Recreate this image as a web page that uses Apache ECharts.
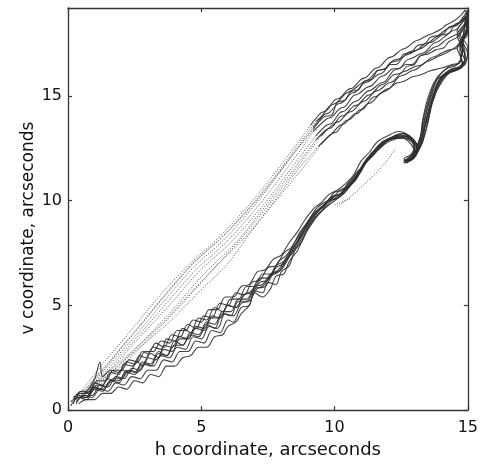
<!DOCTYPE html>
<html>
<head>
<meta charset="utf-8">
<script src="https://cdn.jsdelivr.net/npm/echarts@6/dist/echarts.min.js"></script>
<style>
  html, body { margin: 0; padding: 0; background: #fff; }
  #chart { width: 481px; height: 464px; }
</style>
</head>
<body>
<div id="chart"></div>
<script>
// Tick values for both axes
const hTicks = [0, 5, 10, 15];
const vTicks = [0, 5, 10, 15];

// Outbound legs of each trial (h, v in arcseconds), slow and densely sampled
const outbound = [
  [[0.3,0.5],[0.5,0.9],[0.8,0.8],[1.0,1.3],[1.3,1.2],[1.6,1.8],[1.9,1.7],[2.1,2.2],[2.4,2.1],[2.7,2.6],[2.9,2.5],[3.2,3.0],[3.5,2.9],[3.7,3.4],[4.0,3.3],[4.3,3.9],[4.6,3.7],[4.9,4.4],[5.2,4.3],[5.5,4.9],[5.8,4.7],[6.1,5.3],[6.4,5.3],[6.7,5.9],[7.0,5.9],[7.3,6.5],[7.6,6.5],[7.9,7.1],[8.2,7.4],[8.5,8.0],[8.8,8.6],[9.1,9.2],[9.4,9.6],[9.7,9.9],[10.0,10.4],[10.3,10.5],[10.6,11.0],[10.9,11.3],[11.2,12.0],[11.5,12.3],[11.8,12.8],[12.1,13.0],[12.5,13.2],[12.9,13.0],[13.1,12.5],[12.9,12.0],[12.6,11.9],[12.9,12.1],[13.2,12.9],[13.3,13.8],[13.5,14.9],[13.8,15.8],[14.2,16.3],[14.6,16.5],[14.8,17.2],[14.6,17.9],[14.9,18.5],[15.0,19.0]],
  [[0.2,0.3],[0.4,0.7],[0.7,0.6],[0.9,1.1],[1.2,1.0],[1.5,1.5],[1.7,1.4],[2.0,1.9],[2.3,1.8],[2.6,2.3],[2.8,2.1],[3.1,2.7],[3.4,2.5],[3.6,3.1],[3.9,3.0],[4.2,3.5],[4.5,3.4],[4.8,4.0],[5.1,3.9],[5.4,4.5],[5.7,4.4],[6.0,5.0],[6.3,4.9],[6.6,5.5],[6.9,5.6],[7.2,6.1],[7.5,6.2],[7.8,6.8],[8.1,7.0],[8.4,7.6],[8.7,8.3],[9.0,8.9],[9.3,9.5],[9.6,9.7],[9.9,10.2],[10.2,10.3],[10.5,10.8],[10.8,11.1],[11.1,11.8],[11.4,12.1],[11.7,12.6],[12.0,12.9],[12.5,13.0],[12.8,12.8],[13.0,12.3],[12.8,11.9],[12.7,11.8],[13.0,12.2],[13.2,12.7],[13.4,13.6],[13.6,14.7],[13.9,15.6],[14.3,16.1],[14.7,16.3],[14.9,16.9],[14.7,17.6],[15.0,18.2],[14.9,18.8]],
  [[0.4,0.6],[0.7,0.9],[1.0,1.5],[1.2,2.3],[1.3,1.6],[1.6,1.9],[1.9,1.8],[2.2,2.3],[2.5,2.2],[2.8,2.8],[3.0,2.7],[3.3,3.2],[3.6,3.0],[3.9,3.6],[4.2,3.5],[4.5,4.1],[4.8,3.9],[5.1,4.5],[5.4,4.4],[5.7,5.1],[6.0,5.0],[6.3,5.6],[6.6,5.5],[6.9,6.1],[7.2,6.2],[7.5,6.8],[7.8,6.9],[8.1,7.5],[8.4,7.8],[8.7,8.5],[9.0,9.0],[9.3,9.6],[9.6,9.9],[9.9,10.1],[10.2,10.5],[10.5,10.7],[10.8,11.3],[11.1,11.7],[11.4,12.3],[11.7,12.5],[12.0,12.9],[12.4,13.1],[12.8,13.0],[13.1,12.6],[13.0,12.1],[12.7,11.9],[12.9,12.0],[13.3,12.8],[13.4,13.7],[13.7,14.8],[14.0,15.8],[14.4,16.2],[14.8,16.4],[14.9,17.0],[14.8,17.7],[15.1,18.3],[15.0,18.9]],
  [[0.1,0.2],[0.4,0.6],[0.7,0.5],[1.0,1.0],[1.3,0.9],[1.6,1.4],[1.9,1.3],[2.2,1.8],[2.5,1.7],[2.8,2.2],[3.1,2.1],[3.4,2.7],[3.7,2.6],[4.0,3.1],[4.3,3.1],[4.6,3.7],[4.9,3.6],[5.2,4.2],[5.5,4.1],[5.8,4.7],[6.1,4.7],[6.4,5.3],[6.7,5.3],[7.0,5.9],[7.3,6.0],[7.6,6.5],[7.9,6.7],[8.2,7.3],[8.5,7.8],[8.8,8.5],[9.1,9.1],[9.4,9.5],[9.7,9.9],[10.0,10.2],[10.3,10.4],[10.6,10.8],[10.9,11.3],[11.2,11.9],[11.5,12.3],[11.8,12.8],[12.3,13.0],[12.7,13.1],[13.0,12.7],[13.0,12.2],[12.7,11.8],[12.8,12.0],[13.1,12.5],[13.3,13.5],[13.5,14.5],[13.8,15.5],[14.1,16.0],[14.5,16.2],[14.8,16.6],[14.6,17.3],[14.9,17.9],[15.0,18.6]],
  [[0.3,0.3],[0.6,0.7],[0.9,0.7],[1.2,1.2],[1.5,1.1],[1.8,1.6],[2.1,1.5],[2.4,2.0],[2.7,1.9],[3.0,2.5],[3.3,2.4],[3.6,2.9],[3.9,2.8],[4.2,3.4],[4.5,3.4],[4.8,3.9],[5.1,3.8],[5.4,4.4],[5.7,4.4],[6.0,5.0],[6.3,4.9],[6.6,5.5],[6.9,5.7],[7.2,6.3],[7.5,6.3],[7.8,6.9],[8.1,7.1],[8.4,7.7],[8.7,8.2],[9.0,8.9],[9.3,9.4],[9.6,9.8],[9.9,10.2],[10.2,10.3],[10.5,10.7],[10.8,11.0],[11.1,11.8],[11.4,12.2],[11.7,12.7],[12.1,13.0],[12.6,13.2],[12.9,12.9],[13.1,12.4],[12.8,11.9],[12.6,12.0],[13.0,12.3],[13.2,13.0],[13.5,13.9],[13.7,15.0],[14.0,15.9],[14.4,16.3],[14.9,16.5],[15.0,17.3],[14.7,18.0],[15.0,18.7],[14.9,19.1]],
  [[0.2,0.5],[0.5,0.9],[0.8,0.9],[1.1,1.4],[1.4,1.4],[1.7,1.9],[2.0,1.9],[2.3,2.4],[2.6,2.3],[2.9,2.8],[3.2,2.8],[3.5,3.3],[3.8,3.2],[4.1,3.8],[4.4,3.8],[4.7,4.3],[5.0,4.2],[5.3,4.8],[5.6,4.8],[5.9,5.4],[6.2,5.4],[6.5,5.9],[6.8,6.0],[7.1,6.6],[7.4,6.7],[7.7,7.2],[8.0,7.4],[8.3,8.0],[8.6,8.5],[8.9,9.1],[9.2,9.6],[9.5,9.9],[9.8,10.3],[10.1,10.5],[10.4,10.8],[10.7,11.2],[11.0,11.9],[11.3,12.3],[11.6,12.8],[12.0,13.1],[12.4,13.3],[12.8,13.1],[13.1,12.6],[12.9,12.1],[12.6,11.9],[12.8,12.1],[13.2,12.9],[13.4,13.9],[13.6,15.0],[13.9,15.9],[14.3,16.4],[14.7,16.6],[14.8,17.4],[14.6,18.1],[14.9,18.7],[15.0,19.1]],
  [[0.3,0.4],[0.6,0.7],[0.9,0.6],[1.2,1.0],[1.5,0.9],[1.8,1.3],[2.1,1.2],[2.4,1.6],[2.7,1.5],[3.0,1.9],[3.3,1.9],[3.6,2.4],[3.9,2.3],[4.2,2.8],[4.5,2.8],[4.8,3.3],[5.1,3.2],[5.4,3.8],[5.7,3.7],[6.0,4.3],[6.2,4.2],[6.5,4.9],[6.8,5.0],[7.0,5.7],[7.3,5.6],[7.5,6.1],[7.8,6.0],[8.0,6.6],[8.3,6.9],[8.5,7.6],[8.8,8.1],[9.0,8.7],[9.3,9.2],[9.6,9.6],[9.9,10.0],[10.2,10.2],[10.5,10.6],[10.8,11.0],[11.1,11.7],[11.4,12.1],[11.7,12.5],[12.0,12.8],[12.5,13.0],[12.9,12.8],[13.0,12.3],[12.8,11.9],[12.6,11.8],[12.9,12.0],[13.2,12.6],[13.4,13.6],[13.6,14.6],[13.9,15.6],[14.2,16.1],[14.6,16.3],[14.9,16.8],[14.8,17.5],[15.0,18.1],[15.1,18.8]],
  [[0.2,0.6],[0.5,0.8],[0.8,0.8],[1.1,1.2],[1.4,1.1],[1.7,1.5],[2.0,1.5],[2.3,1.9],[2.6,1.8],[2.9,2.2],[3.2,2.1],[3.5,2.6],[3.8,2.5],[4.1,3.0],[4.4,2.9],[4.7,3.5],[5.0,3.4],[5.3,4.0],[5.6,3.9],[5.9,4.6],[6.2,4.5],[6.5,5.1],[6.8,5.2],[7.1,5.8],[7.4,5.9],[7.7,6.5],[8.0,6.7],[8.3,7.3],[8.6,7.8],[8.9,8.5],[9.2,9.1],[9.5,9.5],[9.8,10.0],[10.1,10.1],[10.4,10.5],[10.7,10.9],[11.0,11.5],[11.3,12.0],[11.7,12.6],[12.2,13.0],[12.6,13.1],[13.0,12.8],[13.1,12.3],[12.8,11.9],[12.7,11.9],[13.0,12.2],[13.3,12.9],[13.5,13.8],[13.7,14.9],[14.1,15.8],[14.4,16.2],[14.8,16.4],[14.7,17.2],[14.9,17.9],[15.0,18.5]],
  [[0.4,0.3],[0.7,0.5],[1.0,0.5],[1.3,0.8],[1.6,0.8],[1.9,1.1],[2.2,1.0],[2.5,1.4],[2.8,1.3],[3.1,1.7],[3.4,1.6],[3.7,2.1],[4.0,2.1],[4.3,2.5],[4.6,2.6],[4.9,3.0],[5.2,3.0],[5.5,3.5],[5.8,3.6],[6.0,4.0],[6.3,4.2],[6.5,4.6],[6.8,5.0],[7.0,5.6],[7.3,5.4],[7.6,5.8],[7.8,6.4],[8.1,6.5],[8.3,7.1],[8.6,7.6],[8.9,8.4],[9.2,9.0],[9.5,9.5],[9.8,9.8],[10.1,10.1],[10.4,10.4],[10.7,10.9],[11.0,11.4],[11.3,12.1],[11.8,12.8],[12.3,13.0],[12.7,13.0],[13.0,12.6],[12.9,12.1],[12.6,11.8],[12.9,12.1],[13.2,12.7],[13.3,13.7],[13.5,14.7],[13.8,15.7],[14.2,16.1],[14.6,16.3],[14.9,16.6],[14.7,17.4],[15.0,18.0],[14.9,18.7]],
  [[0.1,0.4],[0.4,0.6],[0.7,0.6],[1.0,1.1],[1.3,1.0],[1.6,1.4],[1.9,1.4],[2.2,1.9],[2.5,1.8],[2.8,2.3],[3.1,2.2],[3.4,2.8],[3.7,2.6],[4.0,3.3],[4.3,3.1],[4.6,3.6],[4.9,3.5],[5.2,4.1],[5.5,3.9],[5.8,4.6],[6.1,4.5],[6.4,5.2],[6.7,5.2],[7.0,5.8],[7.3,5.9],[7.6,6.4],[7.9,6.6],[8.2,7.2],[8.5,7.7],[8.8,8.4],[9.1,9.0],[9.4,9.5],[9.7,9.9],[10.0,10.1],[10.3,10.4],[10.6,10.8],[10.9,11.4],[11.2,11.9],[11.5,12.3],[11.8,12.7],[12.2,13.0],[12.5,13.1],[12.9,12.9],[13.0,12.4],[12.8,12.0],[12.6,11.9],[13.0,12.1],[13.3,12.8],[13.5,13.7],[13.7,14.8],[14.0,15.7],[14.3,16.2],[14.7,16.4],[15.0,17.0],[14.8,17.7],[15.0,18.4],[15.0,19.0]]
];

// Return legs, slow part (upper right)
const returnSlow = [
  [[15.0,19.0],[14.8,18.6],[14.5,18.4],[14.3,18.0],[14.0,17.9],[13.7,17.6],[13.4,17.5],[13.1,17.2],[12.8,17.1],[12.5,16.8],[12.2,16.7],[11.9,16.3],[11.6,16.2],[11.3,15.8],[11.0,15.6],[10.7,15.3],[10.4,15.1],[10.1,14.7],[9.8,14.5],[9.5,14.0],[9.3,13.8]],
  [[14.9,18.8],[14.6,18.4],[14.3,18.3],[14.1,18.0],[13.8,17.8],[13.6,17.6],[13.3,17.3],[13.1,17.2],[12.8,17.0],[12.6,16.9],[12.3,16.5],[12.1,16.5],[11.8,16.1],[11.6,16.0],[11.3,15.7],[11.1,15.6],[10.8,15.2],[10.6,15.1],[10.3,14.7],[10.1,14.6],[9.8,14.2],[9.6,14.1],[9.2,13.5]],
  [[15.0,18.9],[14.6,18.2],[14.4,18.1],[14.2,17.9],[13.9,17.6],[13.7,17.5],[13.4,17.1],[13.2,17.0],[12.9,16.8],[12.7,16.7],[12.4,16.3],[12.2,16.3],[11.9,16.0],[11.7,15.9],[11.4,15.5],[11.2,15.4],[10.9,15.1],[10.7,15.0],[10.4,14.5],[10.2,14.4],[9.9,14.0],[9.7,13.9],[9.2,13.3]],
  [[15.0,18.6],[14.7,18.0],[14.5,17.9],[14.2,17.7],[13.9,17.4],[13.7,17.3],[13.4,17.0],[13.2,16.9],[12.9,16.5],[12.7,16.5],[12.4,16.3],[12.2,16.2],[11.9,15.7],[11.7,15.6],[11.4,15.3],[11.2,15.2],[10.9,14.8],[10.7,14.7],[10.4,14.3],[10.2,14.2],[9.9,13.7],[9.7,13.6],[9.3,13.1]],
  [[14.9,19.1],[14.7,18.8],[14.5,18.6],[14.2,18.4],[14.0,18.2],[13.7,18.0],[13.5,17.9],[13.2,17.7],[13.0,17.6],[12.7,17.3],[12.5,17.2],[12.2,16.9],[12.0,16.8],[11.7,16.4],[11.5,16.3],[11.2,15.9],[11.0,15.8],[10.7,15.4],[10.5,15.3],[10.2,14.9],[10.0,14.8],[9.7,14.3],[9.5,14.2],[9.1,13.6]],
  [[15.0,19.1],[14.6,18.4],[14.4,18.3],[14.1,18.1],[13.9,17.9],[13.6,17.8],[13.4,17.5],[13.1,17.4],[12.9,17.1],[12.6,17.0],[12.4,16.7],[12.1,16.6],[11.9,16.3],[11.6,16.2],[11.4,15.8],[11.1,15.7],[10.9,15.3],[10.6,15.2],[10.4,14.8],[10.1,14.7],[9.9,14.1],[9.6,14.0],[9.2,13.4]],
  [[15.1,18.8],[14.8,18.1],[14.6,17.8],[14.3,17.6],[14.1,17.3],[13.8,17.2],[13.5,17.0],[13.2,16.9],[13.0,16.5],[12.7,16.4],[12.5,16.1],[12.2,16.0],[11.9,15.6],[11.7,15.5],[11.4,15.1],[11.2,15.0],[10.9,14.6],[10.7,14.5],[10.4,14.1],[10.2,14.0],[9.9,13.5],[9.7,13.4],[9.3,12.9]],
  [[15.0,18.5],[14.8,17.6],[14.6,17.4],[14.4,17.2],[14.1,17.0],[13.9,16.9],[13.6,16.7],[13.4,16.6],[13.1,16.3],[12.9,16.2],[12.6,16.0],[12.4,15.9],[12.1,15.4],[11.9,15.3],[11.6,15.0],[11.4,14.9],[11.1,14.4],[10.9,14.3],[10.6,13.9],[10.4,13.8],[10.1,13.3],[9.9,13.2],[9.5,12.7]],
  [[14.9,18.7],[14.8,17.4],[14.7,16.6],[14.4,16.5],[14.2,16.4],[13.9,16.3],[13.6,16.2],[13.2,16.0],[12.9,15.9],[12.6,15.7],[12.3,15.6],[12.0,15.3],[11.7,15.1],[11.4,14.7],[11.2,14.6],[10.9,14.2],[10.7,14.1],[10.4,13.7],[10.2,13.6],[9.9,13.2],[9.8,13.1],[9.4,12.6]],
  [[15.0,19.0],[14.8,17.8],[14.6,17.3],[14.3,17.2],[14.1,17.1],[13.8,16.9],[13.6,16.8],[13.3,16.5],[13.0,16.4],[12.7,16.2],[12.5,16.1],[12.2,15.7],[12.0,15.6],[11.7,15.3],[11.5,15.2],[11.2,14.8],[11.0,14.7],[10.7,14.3],[10.5,14.2],[10.2,13.8],[10.0,13.7],[9.5,13.1]]
];

// Return legs, fast part (sparse samples back toward the origin)
const returnFast = [
  [[9.3,13.8],[8.5,12.4],[7.1,10.1],[5.8,8.3],[4.6,6.9],[3.5,5.3],[2.4,3.6],[1.4,2.1],[0.5,0.8]],
  [[9.2,13.5],[8.5,12.3],[7.2,10.1],[5.9,8.2],[4.7,6.8],[3.6,5.2],[2.5,3.5],[1.5,2.1],[0.6,0.8]],
  [[9.2,13.3],[8.6,12.2],[7.3,10.0],[6.0,8.1],[4.8,6.7],[3.7,5.1],[2.6,3.5],[1.6,2.1],[0.6,0.8]],
  [[9.3,13.1],[8.7,12.1],[7.4,9.9],[6.1,8.0],[4.9,6.6],[3.8,5.0],[2.7,3.5],[1.7,2.1],[0.7,0.9]],
  [[9.1,13.6],[8.4,12.4],[7.0,10.1],[5.7,8.3],[4.5,6.9],[3.4,5.4],[2.3,3.7],[1.3,2.2],[0.5,0.9]],
  [[9.2,13.4],[8.5,12.3],[7.2,10.2],[5.9,8.4],[4.7,7.0],[3.6,5.4],[2.5,3.7],[1.5,2.2],[0.6,0.9]],
  [[9.3,12.9],[8.7,11.9],[7.5,9.9],[6.3,8.0],[5.1,6.5],[4.0,4.9],[2.9,3.4],[1.8,2.0],[0.7,0.8]],
  [[9.5,12.7],[8.9,11.7],[7.8,10.0],[6.6,8.2],[5.5,6.8],[4.3,5.1],[3.1,3.5],[2.0,2.1],[0.8,0.8]],
  [[9.4,12.6],[8.7,11.6],[7.7,9.9],[6.8,8.4],[6.0,7.0],[4.8,5.5],[3.8,4.2],[2.6,2.9],[1.5,1.7],[0.6,0.7]],
  [[9.5,13.1],[8.9,12.1],[7.9,10.4],[6.9,8.8],[5.8,7.2],[4.6,5.6],[3.5,4.1],[2.4,2.8],[1.4,1.7],[0.6,0.7]],
  [[10.1,9.7],[10.7,10.3],[11.3,11.0],[11.9,11.8],[12.3,12.5]],
  [[10.0,9.8],[10.6,10.1]]
];

const ink = '#303030';
const series = [];
returnFast.forEach(function (pts) {
  series.push({
    type: 'line', data: pts, showSymbol: false, silent: true, animation: false, smooth: 0.3,
    lineStyle: { color: '#505050', width: 1, type: [1, 1.6] }
  });
});
outbound.concat(returnSlow).forEach(function (pts) {
  series.push({
    type: 'line', data: pts, showSymbol: false, silent: true, animation: false, smooth: 0.35,
    lineStyle: { color: ink, width: 1.1, opacity: 0.9 }
  });
});

const font = 'DejaVu Sans';
const frame = { show: true, onZero: false, lineStyle: { color: '#333', width: 1.3 } };
const tickIn = { show: true, inside: true, length: 4, lineStyle: { color: '#333', width: 1.2 } };
const fiveOnly = function (v) { return v % 5 === 0 ? String(v) : ''; };

const option = {
  backgroundColor: '#fff',
  animation: false,
  grid: { left: 68, right: 10, top: 8, bottom: 53, containLabel: false },
  xAxis: [
    {
      type: 'value', min: 0, max: 15, interval: 5, position: 'bottom',
      axisLine: frame, axisTick: tickIn, splitLine: { show: false },
      axisLabel: { fontFamily: font, fontSize: 16, color: '#111', margin: 10, formatter: fiveOnly },
      name: 'h coordinate, arcseconds', nameLocation: 'middle', nameGap: 24,
      nameTextStyle: { fontFamily: font, fontSize: 18, color: '#111' }
    },
    {
      type: 'value', min: 0, max: 15, interval: 5, position: 'top',
      axisLine: frame, axisTick: tickIn, axisLabel: { show: false }, splitLine: { show: false }
    }
  ],
  yAxis: [
    {
      type: 'value', min: 0, max: 19.2, interval: 5, position: 'left',
      axisLine: frame, axisTick: tickIn, splitLine: { show: false },
      axisLabel: { fontFamily: font, fontSize: 16, color: '#111', margin: 6, formatter: fiveOnly, showMaxLabel: false }
    },
    {
      type: 'value', min: 0, max: 19.2, interval: 5, position: 'right',
      axisLine: frame, axisTick: tickIn, axisLabel: { show: false }, splitLine: { show: false }
    }
  ],
  graphic: [
    {
      type: 'text', x: 29, y: 228, rotation: Math.PI / 2,
      style: {
        text: 'v coordinate, arcseconds', fontFamily: font, fontSize: 17, fill: '#111',
        align: 'center', verticalAlign: 'middle'
      }
    }
  ],
  series: series
};

const chart = echarts.init(document.getElementById('chart'), null, { renderer: 'canvas' });
chart.setOption(option);
</script>
</body>
</html>
